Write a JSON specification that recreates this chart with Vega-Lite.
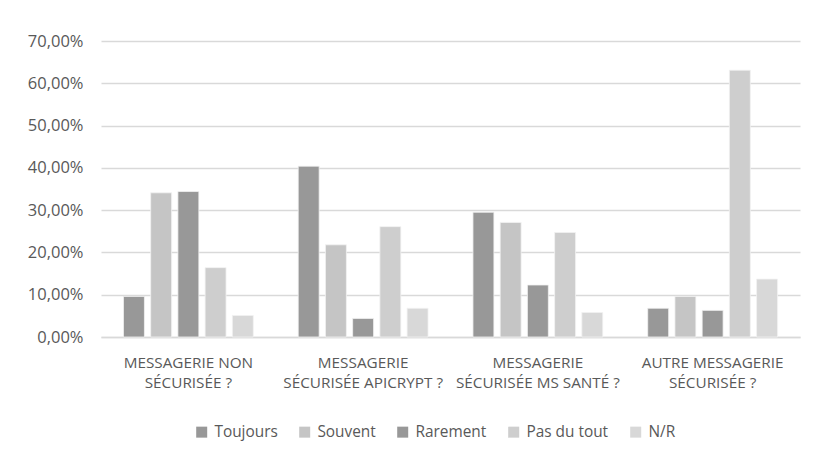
{
  "$schema": "https://vega.github.io/schema/vega-lite/v6.json",
  "width": 699,
  "height": 296,
  "autosize": "none",
  "padding": {"left": 101, "top": 41, "right": 30, "bottom": 122},
  "background": "white",
  "data": {
    "values": [
      {"q": "MESSAGERIE NON|SÉCURISÉE ?", "r": "Toujours", "v": 0.096},
      {"q": "MESSAGERIE NON|SÉCURISÉE ?", "r": "Souvent", "v": 0.341},
      {"q": "MESSAGERIE NON|SÉCURISÉE ?", "r": "Rarement", "v": 0.344},
      {"q": "MESSAGERIE NON|SÉCURISÉE ?", "r": "Pas du tout", "v": 0.164},
      {"q": "MESSAGERIE NON|SÉCURISÉE ?", "r": "N/R", "v": 0.051},
      {"q": "MESSAGERIE|SÉCURISÉE APICRYPT ?", "r": "Toujours", "v": 0.404},
      {"q": "MESSAGERIE|SÉCURISÉE APICRYPT ?", "r": "Souvent", "v": 0.218},
      {"q": "MESSAGERIE|SÉCURISÉE APICRYPT ?", "r": "Rarement", "v": 0.044},
      {"q": "MESSAGERIE|SÉCURISÉE APICRYPT ?", "r": "Pas du tout", "v": 0.261},
      {"q": "MESSAGERIE|SÉCURISÉE APICRYPT ?", "r": "N/R", "v": 0.068},
      {"q": "MESSAGERIE|SÉCURISÉE MS SANTÉ ?", "r": "Toujours", "v": 0.295},
      {"q": "MESSAGERIE|SÉCURISÉE MS SANTÉ ?", "r": "Souvent", "v": 0.271},
      {"q": "MESSAGERIE|SÉCURISÉE MS SANTÉ ?", "r": "Rarement", "v": 0.123},
      {"q": "MESSAGERIE|SÉCURISÉE MS SANTÉ ?", "r": "Pas du tout", "v": 0.247},
      {"q": "MESSAGERIE|SÉCURISÉE MS SANTÉ ?", "r": "N/R", "v": 0.058},
      {"q": "AUTRE MESSAGERIE|SÉCURISÉE ?", "r": "Toujours", "v": 0.068},
      {"q": "AUTRE MESSAGERIE|SÉCURISÉE ?", "r": "Souvent", "v": 0.096},
      {"q": "AUTRE MESSAGERIE|SÉCURISÉE ?", "r": "Rarement", "v": 0.063},
      {"q": "AUTRE MESSAGERIE|SÉCURISÉE ?", "r": "Pas du tout", "v": 0.631},
      {"q": "AUTRE MESSAGERIE|SÉCURISÉE ?", "r": "N/R", "v": 0.137}
    ]
  },
  "mark": {"type": "bar", "stroke": "#f2f2f2", "strokeWidth": 0.8},
  "encoding": {
    "x": {
      "field": "q",
      "type": "nominal",
      "sort": null,
      "title": null,
      "scale": {"paddingInner": 0.257, "paddingOuter": 0.1285},
      "axis": {
        "labelAngle": 0,
        "labelExpr": "split(datum.label, '|')",
        "labelFont": "Open Sans",
        "labelFontSize": 15.3,
        "labelColor": "#595959",
        "labelPadding": 18,
        "labelLineHeight": 20,
        "ticks": false,
        "domainColor": "#d9d9d9",
        "domainWidth": 1.5,
        "labelLimit": 300
      }
    },
    "xOffset": {
      "field": "r",
      "type": "nominal",
      "sort": ["Toujours", "Souvent", "Rarement", "Pas du tout", "N/R"],
      "scale": {"paddingInner": 0.23, "paddingOuter": 0}
    },
    "y": {
      "field": "v",
      "type": "quantitative",
      "title": null,
      "scale": {"domain": [0, 0.7], "nice": false},
      "axis": {
        "values": [0, 0.1, 0.2, 0.3, 0.4, 0.5, 0.6, 0.7],
        "labelExpr": "replace(format(datum.value, '.2%'), '.', ',')",
        "labelFont": "Open Sans",
        "labelFontSize": 16.5,
        "labelColor": "#595959",
        "labelPadding": 18,
        "ticks": false,
        "domain": false,
        "gridColor": "#d9d9d9",
        "gridWidth": 1.3
      }
    },
    "color": {
      "field": "r",
      "type": "nominal",
      "sort": ["Toujours", "Souvent", "Rarement", "Pas du tout", "N/R"],
      "scale": {
        "domain": ["Toujours", "Souvent", "Rarement", "Pas du tout", "N/R"],
        "range": ["#989898", "#c5c5c5", "#989898", "#cecece", "#d8d8d8"]
      },
      "legend": {
        "orient": "none",
        "legendX": 93,
        "legendY": 383,
        "direction": "horizontal",
        "title": null,
        "symbolType": "square",
        "symbolSize": 121,
        "symbolStrokeWidth": 0,
        "labelFont": "Open Sans",
        "labelFontSize": 15.4,
        "labelColor": "#595959",
        "columnPadding": 19,
        "labelOffset": 5
      }
    }
  },
  "config": {
    "view": {"stroke": null}
  }
}
